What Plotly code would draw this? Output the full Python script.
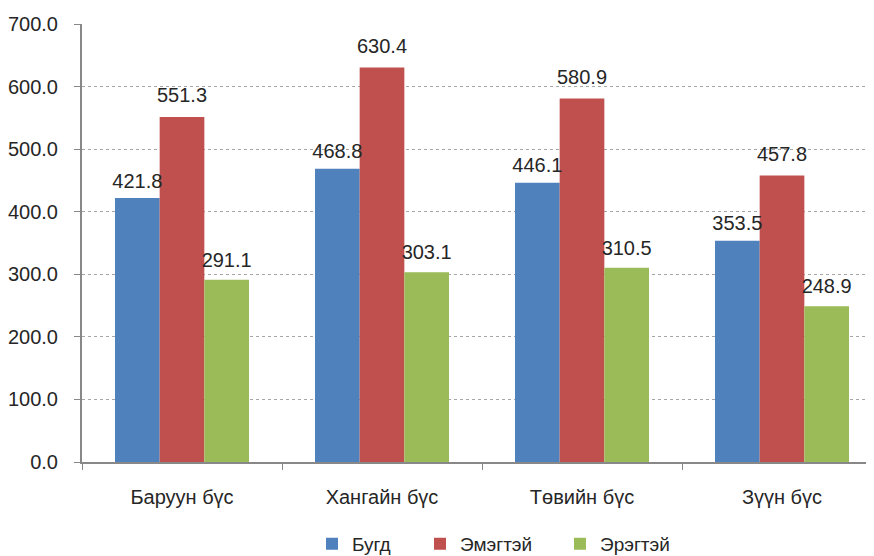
import plotly.graph_objects as go

categories = ["Баруун бүс", "Хангайн бүс", "Төвийн бүс", "Зүүн бүс"]
series_names = ["Бугд", "Эмэгтэй", "Эрэгтэй"]
total = [421.8, 468.8, 446.1, 353.5]
female = [551.3, 630.4, 580.9, 457.8]
male = [291.1, 303.1, 310.5, 248.9]
colors = ["#4F81BD", "#C0504D", "#9BBB59"]
y_ticks = [0, 100, 200, 300, 400, 500, 600, 700]
legend_ids = ["legend", "legend2", "legend3"]
legend_x = [0.2904, 0.4268, 0.6035]
label_pad = [7, 14, 11]

fig = go.Figure()
for name, vals, c, lg in zip(series_names, [total, female, male], colors, legend_ids):
    fig.add_trace(go.Bar(
        x=categories, y=vals, name=name, marker_color=c, marker_line_width=0,
        legend=lg, offsetgroup=name,
    ))
for name, vals, pad in zip(series_names, [total, female, male], label_pad):
    fig.add_trace(go.Scatter(
        x=categories, y=vals, mode="markers+text", text=[f"{v:.1f}" for v in vals],
        textposition="top center", textfont=dict(size=20, color="#262626"),
        showlegend=False, cliponaxis=False, offsetgroup=name, hoverinfo="skip",
        marker=dict(size=pad, opacity=0),
    ))

leg_common = dict(orientation="h", xanchor="left", y=-0.187, yanchor="middle",
                  font=dict(size=19), itemwidth=30, bgcolor="rgba(0,0,0,0)")
fig.update_layout(
    width=866, height=548,
    margin=dict(l=74, r=0, t=16, b=94, autoexpand=False),
    paper_bgcolor="white", plot_bgcolor="white",
    font=dict(family="Liberation Sans, Arial, sans-serif", size=20, color="#262626"),
    barmode="group", bargap=0.33, bargroupgap=0,
    scattermode="group", scattergap=0.33,
    showlegend=True,
    legend=dict(x=legend_x[0], **leg_common),
    legend2=dict(x=legend_x[1], **leg_common),
    legend3=dict(x=legend_x[2], **leg_common),
)
fig.update_yaxes(
    range=[0, 700], tickvals=y_ticks, ticktext=[f"{v:.1f}" for v in y_ticks],
    showgrid=True, gridcolor="#A6A6A6", griddash="dot", gridwidth=1,
    showline=True, linecolor="#888888", linewidth=2,
    ticks="outside", ticklen=6, tickcolor="#888888", tickwidth=1,
    zeroline=False, ticklabelstandoff=12, automargin=False,
)
fig.update_xaxes(
    range=[-0.5, 3.46], showline=True, linecolor="#888888", linewidth=2,
    ticks="outside", tickson="boundaries", ticklen=6, tickcolor="#888888",
    showgrid=False, ticklabelstandoff=16, automargin=False,
)
fig.write_html("out.html")
